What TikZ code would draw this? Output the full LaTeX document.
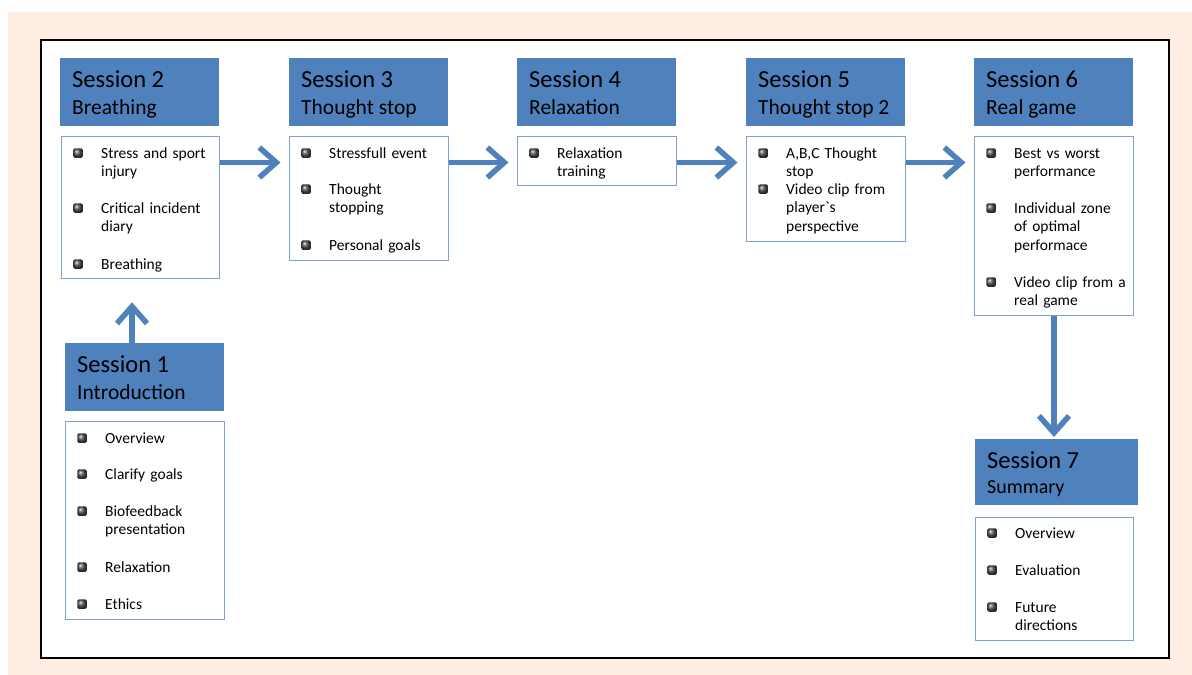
\documentclass[tikz,border=0pt]{standalone}
\usepackage{fontspec}
\setmainfont{Carlito}
\usetikzlibrary{arrows.meta,calc}
\definecolor{hblue}{RGB}{79,129,189}
\definecolor{lblue}{RGB}{126,161,210}
\definecolor{peach}{RGB}{253,237,227}
\newcommand\sesshead[7]{%
  \node[hdr, minimum width=#4, minimum height=#5] (#1) at (#2,#3) {};
  \node[tA] (#1a) at (#2+12,#3+29) {#6};
  \node[tB] (#1b) at (#2+12,#3+56) {#7};
}
\newcommand\bitem[4]{%
  \node[bul] (#1b) at (#2+17,#3-5) {};
  \node[itm] (#1) at (#2+40,#3-12.95) {\strut #4};
}
\begin{document}
\begin{tikzpicture}[x=1pt,y=-1pt,
  hdr/.style={fill=hblue, draw=none, anchor=north west, inner sep=0pt},
  lbox/.style={draw=lblue, line width=1.3pt, fill=white, anchor=north west, inner sep=0pt},
  tA/.style={anchor=base west, inner sep=0pt, font=\fontsize{24.5}{28}\selectfont},
  tB/.style={anchor=base west, inner sep=0pt, font=\fontsize{21.5}{26}\selectfont},
  itm/.style={anchor=north west, inner sep=0pt, text width=125pt, align=left, font=\fontsize{15.5}{18.5}\selectfont},
  bul/.style={rectangle, rounded corners=1.5pt, minimum size=9.5pt, inner sep=0pt, ball color=black!65},
  flow/.style={draw=hblue, line width=5.5pt, -{Straight Barb[length=17pt,width=30pt]}}]
\useasboundingbox (0,0) rectangle (1192,675);
\fill[peach] (8,12) rectangle (1192,675);
\draw[line width=2.5pt, fill=white] (41,40) rectangle (1169,658);

% headers
\sesshead{h2}{60}{58}{159}{68}{Session 2}{Breathing}
\sesshead{h3}{289}{58}{159}{68}{Session 3}{Thought stop}
\sesshead{h4}{517}{58}{159}{68}{Session 4}{Relaxation}
\sesshead{h5}{746}{58}{159}{68}{Session 5}{Thought stop 2}
\sesshead{h6}{974}{58}{159}{68}{Session 6}{Real game}
\sesshead{h1}{65}{343}{159}{68}{Session 1}{Introduction}
\node[hdr, minimum width=163, minimum height=66] (h7) at (975,439) {};
\node[tA] (h7a) at (987,468) {Session 7};
\node[tA, font=\fontsize{20}{24}\selectfont] (h7b) at (987,493) {Summary};

% list boxes
\node[lbox, minimum width=158, minimum height=142] (l2) at (61,136) {};
\node[lbox, minimum width=159, minimum height=124] (l3) at (289,136) {};
\node[lbox, minimum width=159, minimum height=49] (l4) at (517,136) {};
\node[lbox, minimum width=159, minimum height=105] (l5) at (746,136) {};
\node[lbox, minimum width=159, minimum height=179] (l6) at (974,136) {};
\node[lbox, minimum width=159, minimum height=198] (l1) at (65,421) {};
\node[lbox, minimum width=158, minimum height=123] (l7) at (975,517) {};

% items
\bitem{i21}{61}{158}{Stress and sport\\injury}
\bitem{i22}{61}{213}{Critical incident\\diary}
\bitem{i23}{61}{269}{Breathing}
\bitem{i31}{289}{158}{Stressfull event}
\bitem{i32}{289}{194}{Thought\\stopping}
\bitem{i33}{289}{250}{Personal goals}
\bitem{i41}{517}{158}{Relaxation\\training}
\bitem{i51}{746}{158}{A,B,C Thought\\stop}
\bitem{i52}{746}{194}{Video clip from\\player\textasciigrave s\\perspective}
\bitem{i61}{974}{158}{Best vs worst\\performance}
\bitem{i62}{974}{213}{Individual zone\\of optimal\\performace}
\bitem{i63}{974}{287}{Video clip from a\\real game}
\bitem{i11}{65}{443}{Overview}
\bitem{i12}{65}{479}{Clarify goals}
\bitem{i13}{65}{516}{Biofeedback\\presentation}
\bitem{i14}{65}{572}{Relaxation}
\bitem{i15}{65}{609}{Ethics}
\bitem{i71}{975}{538}{Overview}
\bitem{i72}{975}{575}{Evaluation}
\bitem{i73}{975}{612}{Future\\directions}

% arrows
\draw[flow] ([yshift=-26.5pt]l2.north east) -- ([yshift=-26.5pt,xshift=-8.5pt]l3.north west);
\draw[flow] ([yshift=-26.5pt]l3.north east) -- ([yshift=-26.5pt,xshift=-8.5pt]l4.north west);
\draw[flow] ([yshift=-26.5pt]l4.north east) -- ([yshift=-26.5pt,xshift=-8.5pt]l5.north west);
\draw[flow] ([yshift=-26.5pt]l5.north east) -- ([yshift=-26.5pt,xshift=-8.5pt]l6.north west);
\draw[flow] ($(h1.north west)+(67,0)$) -- ($(l2.south west)+(71,23)$);
\draw[flow] ($(l6.south west)+(80,0)$) -- ($(h7.north west)+(79,-2)$);
\end{tikzpicture}
\end{document}
